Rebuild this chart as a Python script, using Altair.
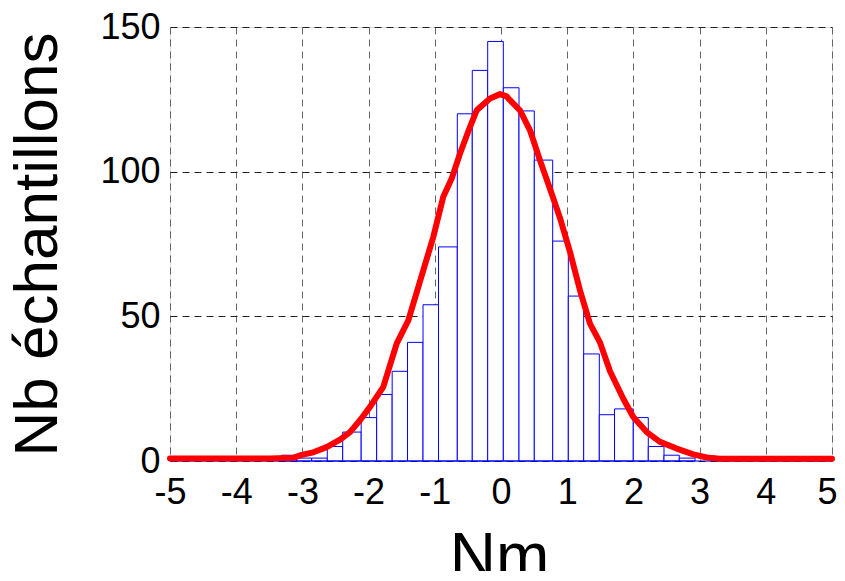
import altair as alt
import pandas as pd

# Histogram bin edges (data units) and counts
bin_edges = [-3.313, -3.086, -2.860, -2.624, -2.391, -2.112, -1.878, -1.644, -1.412,
             -1.178, -0.944, -0.660, -0.434, -0.201, 0.035, 0.272, 0.503, 0.781,
             1.017, 1.249, 1.485, 1.715, 1.998, 2.225, 2.462, 2.693, 2.931]
counts = [2, 1, 1, 5, 10, 15, 23, 31, 41, 54, 74, 120, 135, 145, 129, 121, 104,
          76, 57, 37, 16, 18, 15, 5, 2, 1]

# Fitted curve (red)
curve_x = [-5.0, -3.489, -3.137, -3.011, -2.835, -2.633, -2.432, -2.281, -2.130,
           -1.979, -1.778, -1.576, -1.400, -1.174, -1.023, -0.872, -0.745, -0.619,
           -0.468, -0.367, -0.166, -0.015, 0.086, 0.136, 0.287, 0.438, 0.589,
           0.766, 0.891, 1.042, 1.193, 1.344, 1.495, 1.647, 1.847, 1.998, 2.201,
           2.402, 2.654, 2.905, 3.107, 3.308, 5.0]
curve_y = [0.9, 0.9, 1.1, 2.1, 3.0, 4.8, 7.4, 10.0, 14.1, 18.7, 25.6, 40.6, 48.6,
           65.9, 77.4, 91.3, 97.6, 106.3, 115.5, 121.2, 125.3, 126.8, 126.0, 124.7,
           121.2, 114.3, 103.9, 92.4, 84.0, 72.3, 59.0, 47.5, 41.0, 31.0, 21.5,
           15.2, 10.0, 6.6, 4.3, 2.3, 1.2, 0.8, 0.8]

x_ticks = [-5, -4, -3, -2, -1, 0, 1, 2, 3, 4, 5]
y_ticks = [0, 50, 100, 150]

bars = pd.DataFrame({"x0": bin_edges[:-1], "x1": bin_edges[1:], "n": counts})
curve = pd.DataFrame({"x": curve_x, "y": curve_y})
base_df = pd.DataFrame({"a": [-5], "b": [5], "y": [0]})

FONT = "Liberation Sans"
xs = alt.Scale(domain=[-5, 5], nice=False, zero=False)
ys = alt.Scale(domain=[0, 150], nice=False)

xaxis = alt.Axis(values=x_ticks, grid=True, gridColor="#666666", gridDash=[7, 5],
                 gridWidth=1, domain=False, ticks=False, labelFontSize=36,
                 labelFont=FONT, labelColor="black", labelPadding=14,
                 labelFlush=False, labelOverlap=False,
                 labelExpr="'' + datum.value",
                 labelOffset={"condition": {"test": "datum.value == 5", "value": -5},
                              "value": 0},
                 title="Nm", titleFont=FONT, titleFontSize=64,
                 titleFontWeight="normal", titleColor="black", titleX=329,
                 titleY=116, titleBaseline="alphabetic", titleAlign="center")
yaxis = alt.Axis(values=y_ticks, grid=True, gridColor="#222222", gridDash=[7, 5],
                 gridWidth=1, domain=False, ticks=False, labelFontSize=36,
                 labelFont=FONT, labelColor="black", labelPadding=10,
                 labelFlush=False, labelOverlap=False,
                 title="Nb échantillons", titleFont=FONT,
                 titleFontSize=62, titleFontWeight="normal", titleColor="black",
                 titleAngle=270, titleX=-133, titleY=217, titleAlign="center",
                 titleBaseline="middle")

hist = alt.Chart(bars).mark_rect(fill="white", stroke="#0000FF", strokeWidth=1).encode(
    x=alt.X("x0:Q", scale=xs, axis=xaxis),
    x2="x1:Q",
    y=alt.Y("n:Q", scale=ys, axis=yaxis),
    y2=alt.datum(0),
)

baseline = alt.Chart(base_df).mark_rule(color="#0000FF", strokeWidth=1).encode(
    x=alt.X("a:Q", scale=xs), x2="b:Q", y=alt.Y("y:Q", scale=ys)
)

line = alt.Chart(curve).mark_line(color="#FF0000", strokeWidth=6, strokeJoin="round",
                                  strokeCap="round").encode(
    x=alt.X("x:Q", scale=xs), y=alt.Y("y:Q", scale=ys)
)

chart = (hist + baseline + line).properties(
    width=662, height=434,
    autosize=alt.AutoSizeParams(type="none"),
    padding={"left": 162, "top": 19, "right": 5, "bottom": 110},
).configure_view(stroke=None).configure(background="white")

chart.save("out.html", embed_options={"renderer": "svg", "actions": False})
